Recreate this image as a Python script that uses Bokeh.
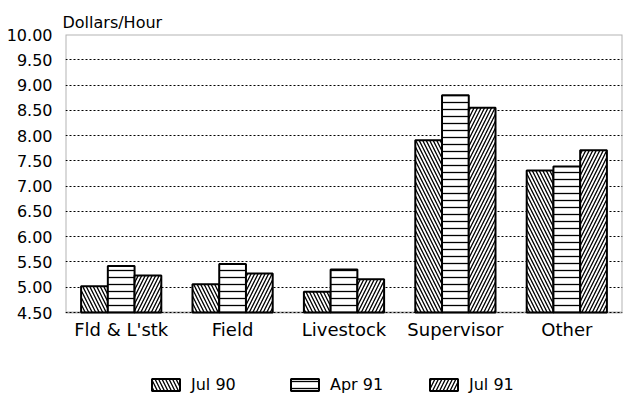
from bokeh.plotting import figure
from bokeh.models import (ColumnDataSource, FactorRange, Range1d, FixedTicker,
                          NumeralTickFormatter, Legend, LegendItem, BoxAnnotation)
from bokeh.core.properties import value
from bokeh.transform import dodge
from bokeh.embed import file_html
from bokeh.resources import INLINE

categories = ["Fld & L'stk", "Field", "Livestock", "Supervisor", "Other"]
jul90 = [5.02, 5.06, 4.91, 7.91, 7.31]
apr91 = [5.42, 5.46, 5.35, 8.80, 7.39]
jul91 = [5.23, 5.27, 5.16, 8.55, 7.71]
series_names = ["Jul 90", "Apr 91", "Jul 91"]
y_ticks = [4.5, 5.0, 5.5, 6.0, 6.5, 7.0, 7.5, 8.0, 8.5, 9.0, 9.5, 10.0]
Y_MIN, Y_MAX = 4.5, 10.0

FONT = "DejaVu Sans"

src = ColumnDataSource(dict(cat=categories, jul90=jul90, apr91=apr91, jul91=jul91))

# frame extends below the value axis so the legend (drawn inside the frame) is not clipped
W, H = 625, 399
TOP, BOTTOM_AXIS = 34, 312
px_per_unit = (BOTTOM_AXIS - TOP) / (Y_MAX - Y_MIN)
y_start = Y_MIN - (H - BOTTOM_AXIS) / px_per_unit

p = figure(x_range=FactorRange(*categories), y_range=Range1d(y_start, Y_MAX),
           width=W, height=H, output_backend="svg", toolbar_location=None,
           min_border_left=65, min_border_right=3, min_border_top=TOP,
           min_border_bottom=0)

p.title.text = "Dollars/Hour"
p.title.align = "left"
p.title.text_font = FONT
p.title.text_font_size = "16px"
p.title.text_font_style = "normal"
p.title.text_color = "black"
p.title.offset = -3
p.title.standoff = 6

p.background_fill_color = "white"
p.border_fill_color = "white"
p.outline_line_color = None

p.xgrid.grid_line_color = None
p.ygrid.grid_line_color = "black"
p.ygrid.grid_line_dash = "2 2"
p.ygrid.grid_line_width = 1
p.ygrid.ticker = FixedTicker(ticks=y_ticks)

p.yaxis.ticker = FixedTicker(ticks=y_ticks)
p.yaxis.formatter = NumeralTickFormatter(format="0.00")
p.yaxis.major_tick_line_color = None
p.yaxis.minor_tick_line_color = None
p.yaxis.axis_line_color = None
p.yaxis.major_label_text_font = FONT
p.yaxis.major_label_text_font_size = "16px"
p.yaxis.major_label_text_color = "black"
p.yaxis.major_label_standoff = 7

p.xaxis.visible = False

# plot box from 4.50 to 10.00
p.add_layout(BoxAnnotation(bottom=Y_MIN, top=Y_MAX, fill_alpha=0, line_color="black",
                           line_width=2, level="overlay"))

bw = 0.24
patterns = ["\\", "-", "/"]
fields = ["jul90", "apr91", "jul91"]
offsets = [-bw, 0.0, bw]
renderers = []
for f, off, pat in zip(fields, offsets, patterns):
    r = p.vbar(x=dodge("cat", off, range=p.x_range), top=f, bottom=Y_MIN, width=bw,
               source=src, fill_color="white", line_color="black", line_width=2,
               hatch_pattern=pat, hatch_color="black", hatch_scale=7,
               hatch_weight=1.3)
    renderers.append(r)

# category labels under the value axis
p.text(x="cat", y=Y_MIN, text="cat", source=src, text_align="center",
       text_baseline="top", y_offset=6, text_color="black",
       text_font=value(FONT), text_font_size=value("18px"))

legend = Legend(items=[LegendItem(label=n, renderers=[r]) for n, r in zip(series_names, renderers)],
                orientation="horizontal", location=(83, 5),
                glyph_width=35, glyph_height=15, label_standoff=8, spacing=26,
                label_width=70, padding=0, margin=0, border_line_alpha=0,
                background_fill_alpha=0, label_text_color="black",
                label_text_font=FONT, label_text_font_size="16px")
p.add_layout(legend, "center")

open("out.html", "w").write(file_html(p, INLINE))
